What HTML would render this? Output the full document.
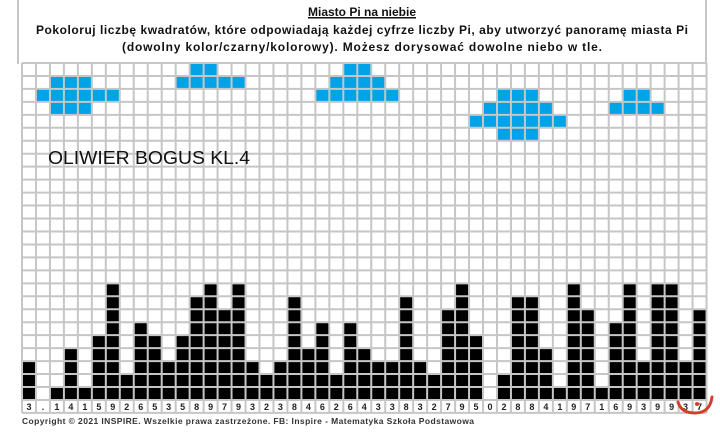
<!DOCTYPE html>
<html><head><meta charset="utf-8"><style>
body{margin:0;background:#fff;width:720px;height:429px;overflow:hidden;font-family:"Liberation Sans",sans-serif}
</style></head><body>
<svg width="720" height="429" viewBox="0 0 720 429" xmlns="http://www.w3.org/2000/svg">
<rect width="720" height="429" fill="#fff"/>
<line x1="18" y1="0" x2="18" y2="64" stroke="#c6c6c6" stroke-width="2"/>
<line x1="706" y1="0" x2="706" y2="64" stroke="#c6c6c6" stroke-width="2"/>
<text x="362" y="16" text-anchor="middle" font-size="12" font-weight="bold" fill="#111" text-decoration="underline">Miasto Pi na niebie</text>
<line x1="308" y1="18" x2="416" y2="18" stroke="#111" stroke-width="1"/>
<text x="362" y="34" text-anchor="middle" font-size="12" font-weight="bold" fill="#111" textLength="652">Pokoloruj liczbę kwadratów, które odpowiadają każdej cyfrze liczby Pi, aby utworzyć panoramę miasta Pi</text>
<text x="362" y="51" text-anchor="middle" font-size="12" font-weight="bold" fill="#111" textLength="480">(dowolny kolor/czarny/kolorowy). Możesz dorysować dowolne niebo w tle.</text>
<g transform="translate(22,63) scale(13.97,12.96)">
<g fill="#000">
<rect x="0" y="23" width="1" height="3"/><rect x="2" y="25" width="1" height="1"/><rect x="3" y="22" width="1" height="4"/><rect x="4" y="25" width="1" height="1"/><rect x="5" y="21" width="1" height="5"/><rect x="6" y="17" width="1" height="9"/><rect x="7" y="24" width="1" height="2"/><rect x="8" y="20" width="1" height="6"/><rect x="9" y="21" width="1" height="5"/><rect x="10" y="23" width="1" height="3"/><rect x="11" y="21" width="1" height="5"/><rect x="12" y="18" width="1" height="8"/><rect x="13" y="17" width="1" height="9"/><rect x="14" y="19" width="1" height="7"/><rect x="15" y="17" width="1" height="9"/><rect x="16" y="23" width="1" height="3"/><rect x="17" y="24" width="1" height="2"/><rect x="18" y="23" width="1" height="3"/><rect x="19" y="18" width="1" height="8"/><rect x="20" y="22" width="1" height="4"/><rect x="21" y="20" width="1" height="6"/><rect x="22" y="24" width="1" height="2"/><rect x="23" y="20" width="1" height="6"/><rect x="24" y="22" width="1" height="4"/><rect x="25" y="23" width="1" height="3"/><rect x="26" y="23" width="1" height="3"/><rect x="27" y="18" width="1" height="8"/><rect x="28" y="23" width="1" height="3"/><rect x="29" y="24" width="1" height="2"/><rect x="30" y="19" width="1" height="7"/><rect x="31" y="17" width="1" height="9"/><rect x="32" y="21" width="1" height="5"/><rect x="34" y="24" width="1" height="2"/><rect x="35" y="18" width="1" height="8"/><rect x="36" y="18" width="1" height="8"/><rect x="37" y="22" width="1" height="4"/><rect x="38" y="25" width="1" height="1"/><rect x="39" y="17" width="1" height="9"/><rect x="40" y="19" width="1" height="7"/><rect x="41" y="25" width="1" height="1"/><rect x="42" y="20" width="1" height="6"/><rect x="43" y="17" width="1" height="9"/><rect x="44" y="23" width="1" height="3"/><rect x="45" y="17" width="1" height="9"/><rect x="46" y="17" width="1" height="9"/><rect x="47" y="23" width="1" height="3"/><rect x="48" y="19" width="1" height="7"/>
</g>
<g fill="#00a2e8">
<rect x="2" y="1" width="3" height="1"/><rect x="1" y="2" width="6" height="1"/><rect x="2" y="3" width="3" height="1"/>
<rect x="12" y="0" width="2" height="1"/><rect x="11" y="1" width="5" height="1"/>
<rect x="23" y="0" width="2" height="1"/><rect x="22" y="1" width="4" height="1"/><rect x="21" y="2" width="6" height="1"/>
<rect x="34" y="2" width="3" height="1"/><rect x="33" y="3" width="5" height="1"/><rect x="32" y="4" width="7" height="1"/><rect x="34" y="5" width="3" height="1"/>
<rect x="43" y="2" width="2" height="1"/><rect x="42" y="3" width="4" height="1"/>
</g>
<path vector-effect="non-scaling-stroke" stroke="#c6c6c6" stroke-width="2" fill="none" d="M0 0V27M1 0V27M2 0V27M3 0V27M4 0V27M5 0V27M6 0V27M7 0V27M8 0V27M9 0V27M10 0V27M11 0V27M12 0V27M13 0V27M14 0V27M15 0V27M16 0V27M17 0V27M18 0V27M19 0V27M20 0V27M21 0V27M22 0V27M23 0V27M24 0V27M25 0V27M26 0V27M27 0V27M28 0V27M29 0V27M30 0V27M31 0V27M32 0V27M33 0V27M34 0V27M35 0V27M36 0V27M37 0V27M38 0V27M39 0V27M40 0V27M41 0V27M42 0V27M43 0V27M44 0V27M45 0V27M46 0V27M47 0V27M48 0V27M49 0V27M0 0H49M0 1H49M0 2H49M0 3H49M0 4H49M0 5H49M0 6H49M0 7H49M0 8H49M0 9H49M0 10H49M0 11H49M0 12H49M0 13H49M0 14H49M0 15H49M0 16H49M0 17H49M0 18H49M0 19H49M0 20H49M0 21H49M0 22H49M0 23H49M0 24H49M0 25H49M0 26H49M0 27H49"/>
</g>
<text font-size="9" font-weight="bold" fill="#222" text-anchor="middle" y="410"><tspan x="29">3</tspan><tspan x="42.95">.</tspan><tspan x="56.92">1</tspan><tspan x="70.89">4</tspan><tspan x="84.86">1</tspan><tspan x="98.83">5</tspan><tspan x="112.8">9</tspan><tspan x="126.77">2</tspan><tspan x="140.74">6</tspan><tspan x="154.71">5</tspan><tspan x="168.68">3</tspan><tspan x="182.65">5</tspan><tspan x="196.62">8</tspan><tspan x="210.59">9</tspan><tspan x="224.56">7</tspan><tspan x="238.53">9</tspan><tspan x="252.5">3</tspan><tspan x="266.47">2</tspan><tspan x="280.44">3</tspan><tspan x="294.41">8</tspan><tspan x="308.38">4</tspan><tspan x="322.35">6</tspan><tspan x="336.32">2</tspan><tspan x="350.29">6</tspan><tspan x="364.26">4</tspan><tspan x="378.23">3</tspan><tspan x="392.2">3</tspan><tspan x="406.17">8</tspan><tspan x="420.14">3</tspan><tspan x="434.11">2</tspan><tspan x="448.08">7</tspan><tspan x="462.05">9</tspan><tspan x="476.02">5</tspan><tspan x="489.99">0</tspan><tspan x="503.96">2</tspan><tspan x="517.93">8</tspan><tspan x="531.9">8</tspan><tspan x="545.87">4</tspan><tspan x="559.84">1</tspan><tspan x="573.81">9</tspan><tspan x="587.78">7</tspan><tspan x="601.75">1</tspan><tspan x="615.72">6</tspan><tspan x="629.69">9</tspan><tspan x="643.66">3</tspan><tspan x="657.63">9</tspan><tspan x="671.6">9</tspan><tspan x="685.57">3</tspan><tspan x="699.54">7</tspan></text>
<text x="48" y="164" font-size="18" fill="#111" textLength="202" lengthAdjust="spacingAndGlyphs">OLIWIER BOGUS KL.4</text>
<text x="22" y="424" font-size="8.5" font-weight="bold" fill="#333" textLength="452">Copyright © 2021 INSPIRE. Wszelkie prawa zastrzeżone. FB: Inspire - Matematyka Szkoła Podstawowa</text>
<path d="M678 402 Q681 413 695 413 Q710 413 712 397" stroke="#d0402a" stroke-width="3" fill="none" stroke-linecap="round"/>
<circle cx="697" cy="404" r="2" fill="#d0402a"/>
</svg>
</body></html>
